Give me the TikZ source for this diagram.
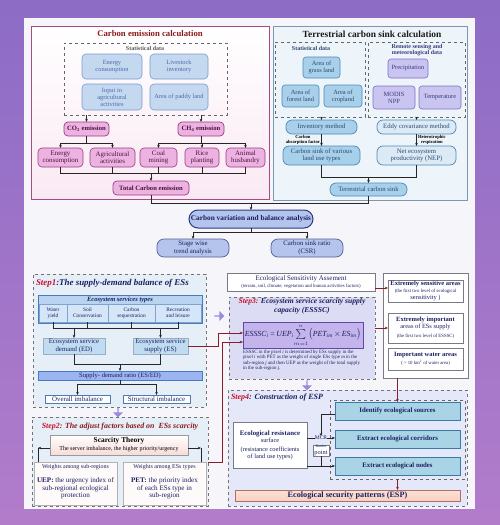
\documentclass[tikz,border=0pt]{standalone}
\usepackage{fontspec}
\setmainfont{Liberation Serif}
\usetikzlibrary{arrows.meta,shapes.arrows,calc}
\definecolor{bgtop}{HTML}{8C6CC6}
\definecolor{bgbot}{HTML}{B27CCB}
\definecolor{panel}{HTML}{F6F5F9}
\definecolor{pinkpan}{HTML}{FAE9F3}
\definecolor{pinkbd}{HTML}{A84A86}
\definecolor{dred}{HTML}{8B1A1A}
\definecolor{lbfill}{HTML}{C4D8F0}
\definecolor{lbdraw}{HTML}{7A9CD0}
\definecolor{lbtext}{HTML}{4A6AA8}
\definecolor{pkfill}{HTML}{EDB3E0}
\definecolor{pkdraw}{HTML}{9A3A88}
\definecolor{pktext}{HTML}{4A1040}
\definecolor{bpan}{HTML}{EEF5FA}
\definecolor{bpandraw}{HTML}{7A98B0}
\definecolor{tfill}{HTML}{A8D0EA}
\definecolor{tdraw}{HTML}{4A88B8}
\definecolor{ttext}{HTML}{2A4A70}
\definecolor{vfill}{HTML}{CAC4F0}
\definecolor{vdraw}{HTML}{7A70C8}
\definecolor{vtext}{HTML}{3A3A80}
\definecolor{efill}{HTML}{DCEAF6}
\definecolor{cvfill}{HTML}{B4C4EC}
\definecolor{cvdraw}{HTML}{2A3A80}
\definecolor{navy}{HTML}{1A2060}
\definecolor{stepred}{HTML}{C8102E}
\definecolor{stepfill}{HTML}{E6EEF8}
\definecolor{estfill}{HTML}{B8D4F0}
\definecolor{estdraw}{HTML}{4A7AB8}
\definecolor{cellfill}{HTML}{D4E6F8}
\definecolor{edfill}{HTML}{C0DCF2}
\definecolor{maroon}{HTML}{8B1A2A}
\definecolor{s3fill}{HTML}{DCDCF4}
\definecolor{fbfill}{HTML}{C4B4EC}
\definecolor{fbdraw}{HTML}{6048A8}
\definecolor{s4fill}{HTML}{E4E8F8}
\definecolor{tealfill}{HTML}{A8D4E6}
\definecolor{tealdraw}{HTML}{3A7AA8}
\definecolor{espfill}{HTML}{F8CFC0}
\definecolor{espdraw}{HTML}{B07060}
\definecolor{parrowc}{HTML}{9B8AE0}
\definecolor{gborder}{HTML}{7A7A86}
\definecolor{scarpink}{HTML}{F6DCD8}
\newcommand\mybox[7]{%
  \pgfmathsetmacro\mbw{#4-#2}\pgfmathsetmacro\mbh{#5-#3}%
  \pgfmathsetmacro\mbx{(#2+#4)/2}\pgfmathsetmacro\mby{(#3+#5)/2}%
  \node[base,#6,minimum width=\mbw pt,minimum height=\mbh pt] (#1) at (\mbx,\mby) {#7};}
\newcommand\fsA{\fontsize{6.5}{7.3}\selectfont\bfseries}
\newcommand\fsT{\fontsize{4.8}{5.4}\selectfont\mdseries}
\tikzset{
  base/.style={inner sep=0pt,outer sep=0pt,align=center,font=\fontsize{6.4}{7}\selectfont},
  arr/.style={-{Stealth[length=3.2pt,width=2.6pt]},line width=0.6pt,draw=black!85},
  ln/.style={line width=0.6pt,draw=black!85},
  marr/.style={-{Stealth[length=3.2pt,width=2.6pt]},line width=0.8pt,draw=maroon},
  ttl/.style={base,font=\fontsize{8.7}{10}\selectfont\bfseries},
  pinkpanel/.style={draw=pinkbd,line width=0.8pt,top color=white,bottom color=pinkpan},
  bluepanel/.style={draw=bpandraw,line width=0.8pt,fill=bpan},
  dashbox/.style={draw=black!60,dashed,line width=0.6pt},
  dashtitle/.style={base,font=\fontsize{6}{6.8}\selectfont\bfseries},
  bluebox/.style={fill=lbfill,draw=lbdraw,line width=0.6pt,rounded corners=4pt,text=lbtext},
  pinkbox/.style={fill=pkfill,draw=pkdraw,line width=0.7pt,rounded corners=4pt,text=pktext,font=\fontsize{6.6}{7.2}\selectfont\bfseries},
  pinkbox2/.style={fill=pkfill,draw=pkdraw,line width=0.6pt,rounded corners=4pt,text=pktext,font=\fontsize{6.9}{7.4}\selectfont},
  tbox/.style={fill=tfill,draw=tdraw,line width=0.6pt,rounded corners=3pt,text=ttext},
  vbox/.style={fill=vfill,draw=vdraw,line width=0.6pt,rounded corners=3pt,text=vtext},
  invstyle/.style={fill=tfill,draw=tdraw,line width=0.7pt,rounded corners=6pt,text=ttext,font=\fontsize{6.7}{7.4}\selectfont},
  eddystyle/.style={fill=efill,draw=tdraw,line width=0.7pt,rounded corners=6pt,text=ttext,font=\fontsize{6.7}{7.4}\selectfont},
  lbl/.style={base,font=\fontsize{4.6}{4.9}\selectfont\bfseries},
  cvastyle/.style={fill=cvfill,draw=cvdraw,line width=1pt,rounded corners=9pt,text=navy,font=\fontsize{7.3}{8}\selectfont\bfseries},
  resstyle/.style={fill=cvfill,draw=cvdraw!80,line width=0.7pt,rounded corners=7pt,text=navy,font=\fontsize{6.8}{7.6}\selectfont},
  stepbox/.style={fill=stepfill,draw=black!55,dashed,line width=0.6pt},
  steptitle/.style={base,font=\fontsize{8.9}{10}\selectfont\bfseries\itshape,text=navy},
  estbox/.style={fill=estfill,draw=estdraw,line width=0.6pt},
  cell/.style={fill=cellfill,draw=estdraw!70,line width=0.4pt,text=navy,font=\fontsize{5.4}{6}\selectfont},
  edbox/.style={fill=edfill,draw=edfill!80!black,line width=0.3pt,text=navy,font=\fontsize{6.8}{7.6}\selectfont},
  ratiobox/.style={fill=estfill!85!blue,draw=estdraw,line width=0.5pt,text=navy,font=\fontsize{6.6}{7.2}\selectfont},
  imbbox/.style={fill=white,draw=estdraw,line width=0.5pt,text=navy,font=\fontsize{6.9}{7.4}\selectfont},
  scarbox/.style={top color=white,bottom color=scarpink,draw=black!40,line width=0.5pt},
  wbox/.style={fill=white!92!pink,draw=black!30,line width=0.4pt,text=navy},
  wbox2/.style={fill=white,draw=gborder,line width=0.6pt,text=navy},
  step3box/.style={fill=s3fill,draw=black!55,dashed,line width=0.6pt},
  step4box/.style={fill=s4fill,draw=black!55,dashed,line width=0.6pt},
  fbox/.style={fill=fbfill,draw=fbdraw,line width=0.9pt,text=navy,font=\fontsize{7.8}{9}\selectfont},
  tealbox/.style={fill=tealfill,draw=tealdraw,line width=0.7pt,text=navy,font=\fontsize{6.8}{7.4}\selectfont\bfseries},
  espbox/.style={top color=espfill!60!white,bottom color=espfill,draw=espdraw,line width=0.7pt,text=navy,font=\fontsize{8.2}{9}\selectfont\bfseries},
  parrow/.style={single arrow,fill=parrowc,draw=none,minimum height=10pt,minimum width=10pt,single arrow head extend=1.5pt,inner sep=0pt,outer sep=0pt},
}
\begin{document}
\begin{tikzpicture}[x=1pt,y=-1pt]
\useasboundingbox (0,0) rectangle (500,525);
\shade[top color=bgtop,bottom color=bgbot] (0,0) rectangle (500,525);
\fill[panel] (24,18) rectangle (475,509);
% ---------- carbon emission ----------
\mybox{ce}{31}{26}{269}{199}{pinkpanel}{}
\node[ttl,text=dred] (cet) at (150,34) {Carbon emission calculation};
\mybox{sd1}{64}{43}{227}{115}{dashbox}{}
\node[dashtitle,text=black!65] (sd1t) at (145,48) {Statistical data};
\mybox{ec}{82}{54}{142}{79}{bluebox}{Energy\\consumption}
\mybox{lv}{150}{54}{208}{79}{bluebox}{Livestock\\inventory}
\mybox{ia}{82}{84}{142}{110}{bluebox}{Input in\\agricultural\\activities}
\mybox{pl}{150}{84}{208}{110}{bluebox}{Area of paddy land}
\mybox{co2}{64}{122}{109}{136}{pinkbox}{CO\textsubscript{2} emission}
\mybox{ch4}{178}{122}{224}{136}{pinkbox}{CH\textsubscript{4} emission}
\draw[arr] (sd1.south -| co2) -- (co2.north);
\draw[arr] (sd1.south -| ch4) -- (ch4.north);
\mybox{e1}{38}{148}{83}{167}{pinkbox2}{Energy\\consumption}
\mybox{e2}{90}{148}{135}{167}{pinkbox2}{Agricultural\\activities}
\mybox{e3}{140}{148}{177}{167}{pinkbox2}{Coal\\mining}
\mybox{e4}{185}{148}{219}{167}{pinkbox2}{Rice\\planting}
\mybox{e5}{226}{148}{265}{167}{pinkbox2}{Animal\\husbandry}
\draw[arr] (co2.south) -- ++(0,7) -| (e1.north);
\draw[arr] (co2.south) -- ++(0,7) -| (e2.north);
\draw[arr] (ch4.south) -- ++(0,7) -| (e3.north);
\draw[arr] (ch4.south) -- ++(0,7) -| (e4.north);
\draw[arr] (ch4.south) -- ++(0,7) -| (e5.north);
\mybox{tce}{113}{181}{189}{195}{pinkbox}{Total Carbon emission}
\draw[ln] (e1.south) -- ++(0,6) -| (e5.south);
\foreach \n in {e2,e3,e4} \draw[ln] (\n.south) -- ++(0,6);
\coordinate (busE) at (151,173);
\draw[arr] (busE) -- (tce.north);
% ---------- terrestrial sink ----------
\mybox{tp}{273}{26}{467}{200}{bluepanel}{}
\node[ttl,text=black!90,font=\fontsize{9.4}{10}\selectfont\bfseries] (tpt) at (372,34) {Terrestrial carbon sink calculation};
\mybox{sd2}{275}{42}{365}{117}{dashbox}{}
\node[dashtitle,text=ttext] (sd2t) at (311,48) {Statistical data};
\mybox{gl}{303}{57}{340}{78}{tbox}{Area of\\grass land}
\mybox{fl}{282}{85}{319}{107}{tbox}{Area of\\forest land}
\mybox{cl}{324}{85}{362}{107}{tbox}{Area of\\cropland}
\mybox{rs}{368}{42}{465}{117}{dashbox}{}
\node[dashtitle,text=vtext] (rst) at (417,50) {Remote sensing and\\meteorological data};
\mybox{pr}{388}{59}{428}{78}{vbox}{Precipitation}
\mybox{mn}{373}{86}{415}{109}{vbox}{MODIS\\NPP}
\mybox{tm}{419}{86}{461}{109}{vbox}{Temperature}
\mybox{im}{286}{120}{357}{134}{invstyle}{Inventory method}
\mybox{ecm}{377}{120}{456}{134}{eddystyle}{Eddy covariance method}
\draw[arr] (sd2.south -| im) -- (im.north);
\draw[arr] (rs.south -| ecm) -- (ecm.north);
\mybox{csl}{283}{146}{360}{165}{invstyle}{Carbon sink of various\\land use types}
\mybox{nep}{377}{146}{456}{165}{eddystyle}{Net ecosystem\\productivity (NEP)}
\draw[arr] (im.south) -- (im.south |- csl.north);
\draw[arr] (ecm.south) -- (ecm.south |- nep.north);
\node[lbl,anchor=east] (caf) at (320,140) {Carbon\\absorption factor};
\node[lbl,anchor=west] (hr) at (418,140) {Heterotrophic\\respiration};
\mybox{tcs}{330}{183}{407}{196}{invstyle}{Terrestrial carbon sink}
\draw[ln] (im.south |- csl.south) -- ++(0,12) -| (ecm.south |- nep.south);
\coordinate (busT) at (368.5,177);
\draw[arr] (busT) -- (tcs.north);
% ---------- balance ----------
\coordinate (jn) at (251,203);
\draw[ln] (tce.south) |- (jn);
\draw[ln] (tcs.south) |- (jn);
\mybox{cva}{189}{210}{313}{228}{cvastyle}{Carbon variation and balance analysis}
\draw[arr] (jn) -- (cva.north);
\mybox{swt}{157}{239}{229}{257}{resstyle}{Stage wise\\trend analysis}
\mybox{csr}{271}{239}{343}{257}{resstyle}{Carbon sink ratio\\(CSR)}
\draw[arr] (cva.south) -- ++(0,4) -| (swt.north);
\draw[arr] (cva.south) -- ++(0,4) -| (csr.north);
% ---------- step 1 ----------
\mybox{s1}{33}{274}{206}{407}{stepbox}{}
\node[steptitle,anchor=west] (s1t) at (36,283) {\textcolor{stepred}{Step1}:The supply-demand balance of ESs};
\mybox{est}{38}{295}{202}{323}{estbox}{}
\node[base,font=\fontsize{6.5}{7}\selectfont\bfseries\itshape,text=navy] (estt) at (120,299.5) {Ecosystem services types};
\mybox{c1}{39}{304}{67}{322}{cell}{Water\\yield}
\mybox{c2}{67}{304}{108}{322}{cell}{Soil\\Conservation}
\mybox{c3}{108}{304}{155}{322}{cell}{Carbon\\sequestration}
\mybox{c4}{155}{304}{201}{322}{cell}{Recreation\\and leisure}
\draw[ln] (c1.south) -- ++(0,6) -| (c4.south);
\draw[ln] (c2.south) -- ++(0,6);
\draw[ln] (c3.south) -- ++(0,6);
\mybox{ed}{43}{338}{105}{354}{edbox}{Ecosystem service\\demand (ED)}
\mybox{es}{133}{338}{188}{354}{edbox}{Ecosystem service\\supply (ES)}
\draw[arr] (ed.north |- c1.south) ++(0,6) -- (ed.north);
\draw[arr] (es.north |- c1.south) ++(0,6) -- (es.north);
\mybox{sdr}{38}{371}{202}{380}{ratiobox}{Supply- demand ratio (ES/ED)}
\draw[ln] (ed.south) -- ++(0,10) -| (es.south);
\draw[arr] (sdr.north |- ed.south) ++(0,10) -- (sdr.north);
\mybox{oi}{45}{395}{110}{403}{imbbox}{Overall imbalance}
\mybox{si}{123}{395}{190}{403}{imbbox}{Structural imbalance}
\draw[arr] (sdr.south) -- ++(0,4) -| (oi.north);
\draw[arr] (sdr.south) -- ++(0,4) -| (si.north);
\node[parrow,shape border rotate=270] (pa1) at (118,412) {};
% ---------- step 2 ----------
\mybox{s2}{32}{417}{208}{506}{stepbox}{}
\node[steptitle,font=\fontsize{7.9}{9}\selectfont\bfseries\itshape,text=dred] (s2t) at (120,427) {\textcolor{stepred}{Step2}: The adjust factors based on ~ESs scarcity};
\mybox{st}{50}{435}{188}{455}{scarbox}{\fontsize{7.4}{8}\selectfont\bfseries Scarcity Theory\\[1pt]\fontsize{6}{6.5}\selectfont\mdseries The server imbalance, the higher priority/urgency}
\mybox{wl}{34}{462}{117}{505}{wbox}{}
\mybox{wr}{123}{462}{206}{505}{wbox}{}
\node[base,text=navy,font=\fontsize{6}{6.8}\selectfont] (wlh) at (75.5,467.5) {Weights among sub-regions};
\node[base,text=navy,font=\fontsize{7.1}{7.6}\selectfont] (wlb) at (75.5,488.5) {\textbf{UEP:} the urgency index of\\sub-regional ecological\\protection};
\node[base,text=navy,font=\fontsize{6}{6.8}\selectfont] (wrh) at (164.5,467.5) {Weights among ESs types};
\node[base,text=navy,font=\fontsize{7.1}{7.6}\selectfont] (wrb) at (164.5,488.5) {\textbf{PET:} the priority index\\of each ESs type in\\sub-region};
\coordinate (sL) at (38,448);
\coordinate (sR) at (201,448);
\draw[arr] (st.west |- sL) -- (sL);
\draw[ln] (sL) -- (sL |- wl.north);
\draw[arr] (st.east |- sR) -- (sR);
\draw[ln] (sR) -- (sR |- wr.north);
% ---------- step 3 ----------
\mybox{esa}{227}{273}{375}{291}{wbox2}{\fontsize{7}{7.8}\selectfont Ecological Sensitivity Assement\\\fsT (terrain, soil, climate, vegetation and human activities factors)}
\mybox{s3}{229}{297}{375}{379}{step3box}{}
\node[base,font=\fontsize{7.6}{8.4}\selectfont\bfseries\itshape,text=navy] (s3t) at (302,306) {\textcolor{stepred}{Step3:} Ecosystem service scarcity supply\\capacity (ESSSC)};
\mybox{fb}{243}{322}{363}{348}{fbox}{\itshape ESSSC\textsubscript{i}\,=\,UEP\textsubscript{i}$\sum\limits_{m=1}^{n}\bigl($PET\textsubscript{im}\,$\times$\,ES\textsubscript{im}$\bigr)$}
\node[base,anchor=north west,align=left,text=navy,font=\fontsize{4.95}{5.3}\selectfont] (s3d) at (243,350) {ESSSC in the pixel \textit{i} is determined by ESs supply in the\\pixel \textit{i} with PET as the weight of single ESs type \textit{m} in the\\sub-region \textit{j} and then UEP as the weight of the total supply\\in the sub-region \textit{j}.};
\node[parrow] (pa2) at (219,316) {};
\draw[marr] (es.east) -- ++(30,0) |- ($(fb.west)+(0,-2)$);
\draw[marr] (s2.east |- wr.north) -- ++(14,0) |- ($(fb.west)+(0,7)$);
% ---------- right column ----------
\mybox{rc}{383}{273}{468}{378}{wbox2}{}
\mybox{esv}{388}{280}{463}{302}{wbox2}{\fsA Extremely sensitive areas\\\fsT (the first two level of ecological\\sensitivity )}
\mybox{eia}{388}{313}{463}{343}{wbox2}{\fsA Extremely important\\areas of ESs supply\\[1.5pt]\fsT (the first two level of ESSSC)}
\mybox{iwa}{388}{348}{463}{370}{wbox2}{\fsA Important water areas\\[1pt]\fsT ( > 10 km\textsuperscript{2} of water area)}
\draw[marr] ($(esa.east)+(0,6)$) -- ($(esv.west)+(0,-3)$);
\draw[marr] (s3.east |- eia.west) -- (eia.west);
\node[parrow,shape border rotate=270] (pa3) at (307,385) {};
% ---------- step 4 ----------
\mybox{s4}{228}{390}{467}{506}{step4box}{}
\node[steptitle,anchor=west,font=\fontsize{8}{9}\selectfont\bfseries\itshape] (s4t) at (231,398) {\textcolor{stepred}{Step4}: Construction of ESP};
\mybox{ind}{330}{400}{465}{479}{dashbox}{}
\mybox{ies}{335}{402}{460}{420}{tealbox}{Identify ecological sources}
\mybox{eec}{335}{430}{460}{448}{tealbox}{Extract ecological corridors}
\mybox{een}{335}{457}{460}{475}{tealbox}{Extract ecological nodes}
\draw[marr] (rc.south -| ies) -- (ies.north);
\mybox{ers}{233}{422}{307}{468}{wbox2}{\fontsize{6.8}{7.5}\selectfont\bfseries Ecological resistance\\surface\\[2pt]\fontsize{6.4}{7.2}\selectfont\mdseries (resistance coefficients\\of land use types)}
\node[base,font=\fontsize{5.6}{6}\selectfont,text=navy] (mcr) at (321,438) {MCR};
\draw[ln] (ers.east |- mcr) -- (mcr.west);
\draw[arr] (mcr.east) -- (mcr.east -| eec.west);
\draw[arr] ($(ies.west)+(0,3)$) -| (mcr.north);
\mybox{bp}{313}{445}{329}{456}{wbox2}{\fontsize{3.8}{4.2}\selectfont Barrier\\point}
\draw[ln] (bp.south) -- (bp.south |- een.west);
\draw[arr] (ers.east |- een.west) -- (een.west);
\mybox{esp}{235}{490}{460}{501}{espbox}{Ecological security patterns (ESP)}
\draw[marr] (ind.south -| ies.south) -- (esp.north -| ies.south);
\end{tikzpicture}
\end{document}
